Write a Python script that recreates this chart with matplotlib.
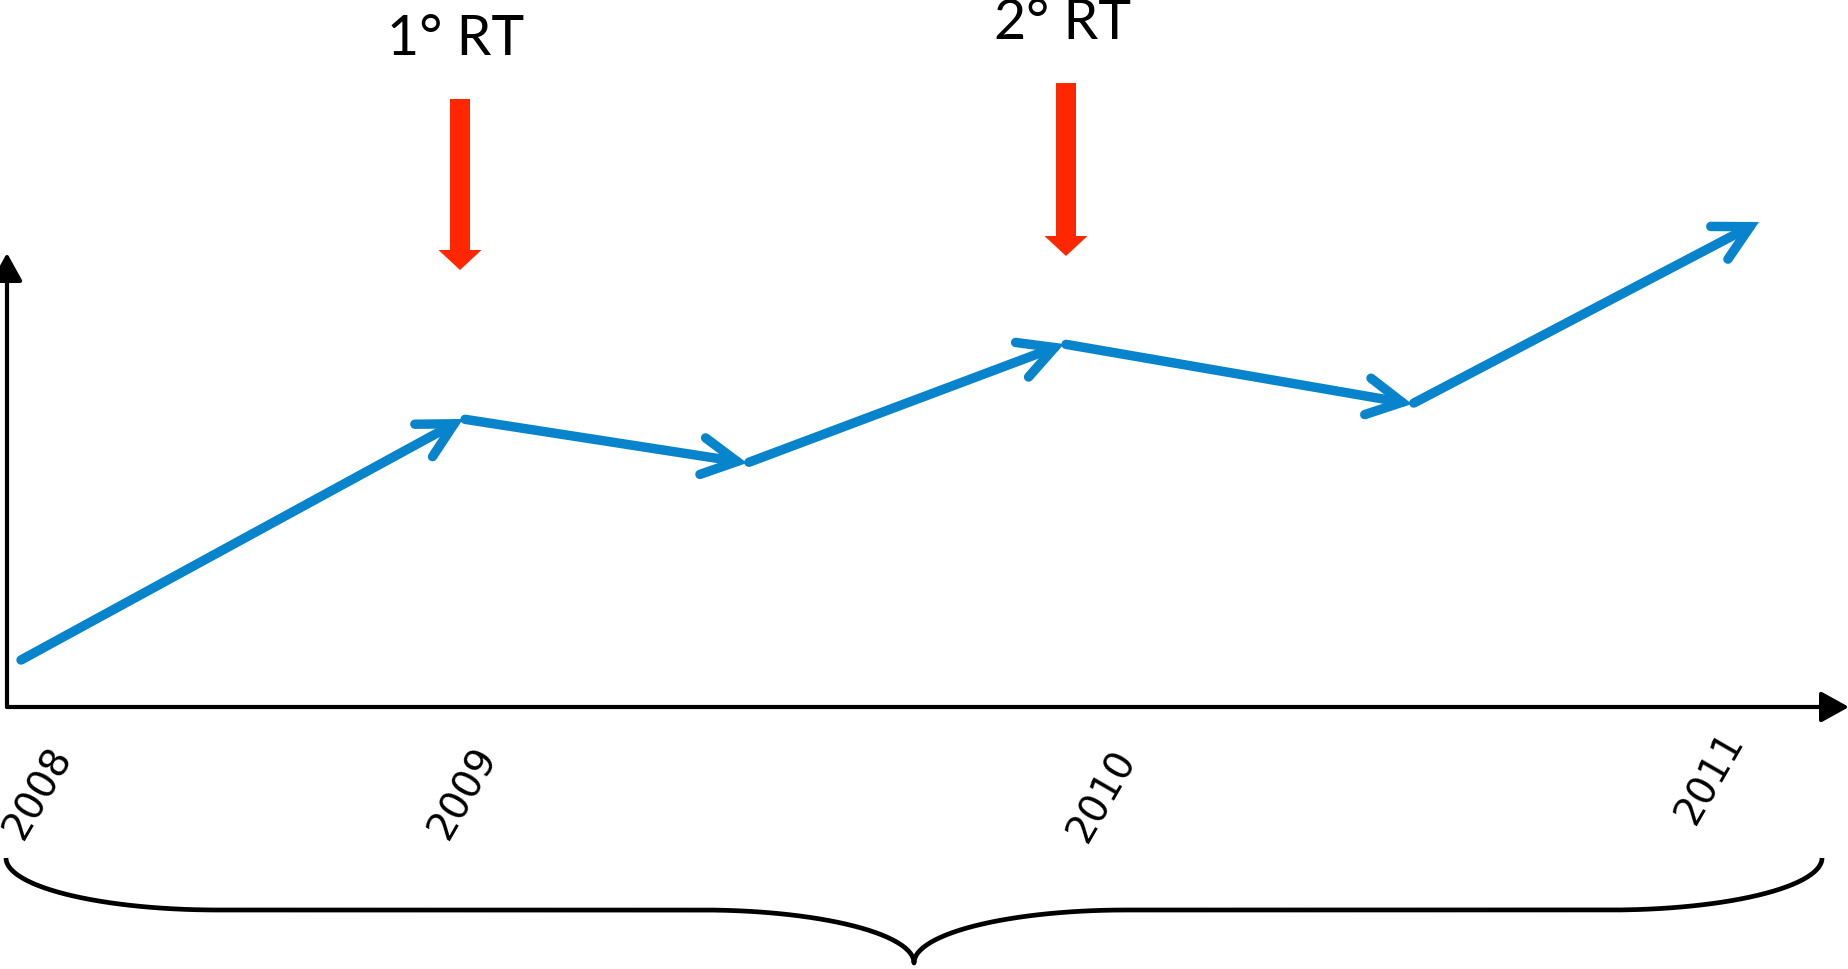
import matplotlib
matplotlib.use("Agg")
import matplotlib.pyplot as plt
import numpy as np
from matplotlib.patches import FancyArrowPatch, FancyArrow

# trend knots (canvas units, y grows downward)
trend_x = [21, 463, 747, 1064, 1412, 1759]
trend_y = [660, 419, 463, 344, 404, 222]

# treatment events: label, x, top of shaft, tip
rt_labels = ["1° RT", "2° RT"]
rt_x = [460, 1066]
rt_top = [99, 83]
rt_tip = [270, 256]
rt_label_y = [55, 39]

years = ["2008", "2009", "2010", "2011"]
year_x = [38, 463, 1102, 1710]
year_y = [793, 793, 796, 778]

BLUE = "#0784CB"
RED = "#FF2600"

fig = plt.figure(figsize=(18.49, 9.69), dpi=100)
ax = fig.add_axes([0, 0, 1, 1])
ax.set_xlim(0, 1849)
ax.set_ylim(969, 0)
ax.axis("off")

# axes with arrowheads
axis_style = dict(arrowstyle="-|>,head_length=17,head_width=9.4",
                  color="black", lw=3.0, shrinkA=0, shrinkB=0,
                  mutation_scale=1)
ax.add_patch(FancyArrowPatch((7, 707), (1849, 707), **axis_style))
ax.add_patch(FancyArrowPatch((7, 707), (7, 253), **axis_style))

# trend arrows
for i in range(len(trend_x) - 1):
    arr = FancyArrowPatch((trend_x[i], trend_y[i]), (trend_x[i + 1], trend_y[i + 1]),
                          arrowstyle="->,head_length=25,head_width=13.3",
                          mutation_scale=1, color=BLUE, lw=6.8,
                          shrinkA=1.5 if i else 0, shrinkB=0,
                          capstyle="round", joinstyle="miter")
    ax.add_patch(arr)

# RT markers
for lab, x, top, tip, ly in zip(rt_labels, rt_x, rt_top, rt_tip, rt_label_y):
    ax.add_patch(FancyArrow(x, top, 0, tip - top, width=20, head_width=43,
                            head_length=20, length_includes_head=True,
                            color=RED, lw=0))
    ax.text(x - 4, ly, lab, fontsize=40, family="Lato", ha="center",
            va="baseline", color="black")

# years along the time axis
for lab, x, y in zip(years, year_x, year_y):
    ax.text(x, y, lab, fontsize=28, family="DejaVu Sans", rotation=60,
            ha="center", va="center", rotation_mode="anchor")

# curly brace under the years
left, right = 6, 1822
top, mid, tip = 858, 910, 963
cx = (left + right) / 2
a = 212
t = np.linspace(0, np.pi / 2, 60)
# left end arc, flat part, arc into the tip
arc1_x = left + a - a * np.cos(t)
arc1_y = top + (mid - top) * np.sin(t)
arc2_x = cx - a + a * np.sin(t)
arc2_y = tip - (tip - mid) * np.cos(t)
bx = np.concatenate([arc1_x, arc2_x])
by = np.concatenate([arc1_y, arc2_y])
bx = np.concatenate([bx, 2 * cx - bx[::-1]])
by = np.concatenate([by, by[::-1]])
ax.plot(bx, by, color="black", lw=3.4, solid_capstyle="butt")

fig.savefig("out.png", dpi=100)
